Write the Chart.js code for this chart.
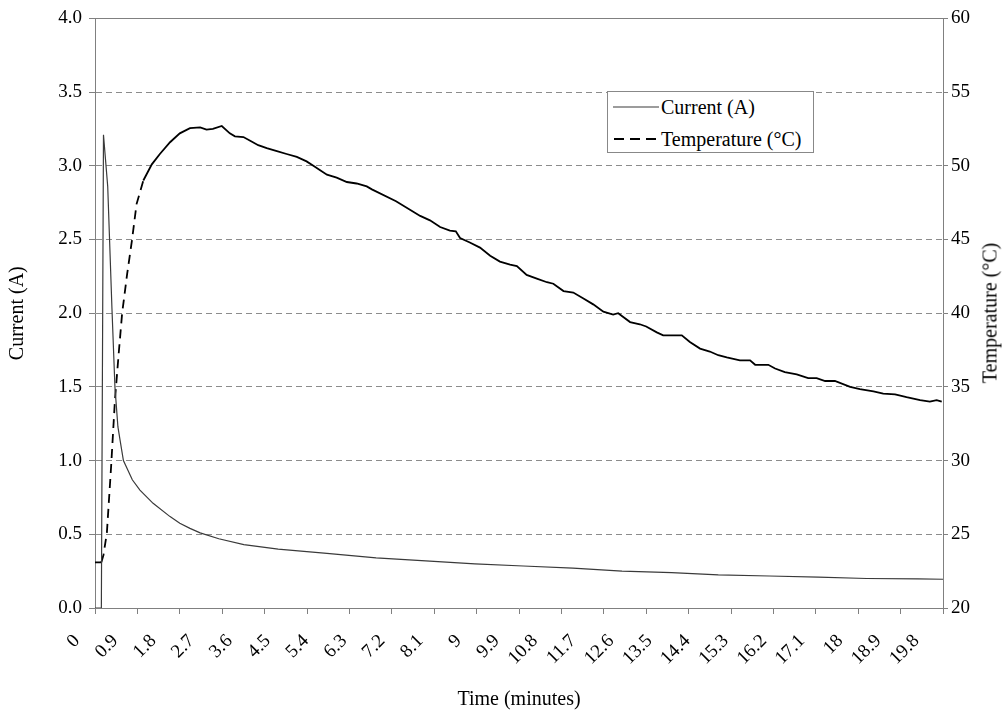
<!DOCTYPE html>
<html>
<head>
<meta charset="utf-8">
<title>Current and temperature over time</title>
<script src="https://cdn.jsdelivr.net/npm/chart.js@4"></script>
<style>
  body { margin: 0; background: #fff; }
  #wrap { position: relative; width: 1006px; height: 715px; font-family: 'Liberation Serif', 'Times New Roman', serif; }
  #legend { position: absolute; left: 607px; top: 91px; width: 205px; height: 60px; border: 1px solid #888; background: #fff; }
  #legend .row { position: absolute; left: 5px; height: 24px; display: flex; align-items: center; font-size: 20px; line-height: 24px; white-space: nowrap; }
  #legend svg { margin-right: 2px; }
  #rightTitle { position: absolute; left: 990px; top: 313px; transform: translate(-50%, -50%) rotate(-90deg); font-size: 20px; white-space: nowrap; }
</style>
</head>
<body>
<div id="wrap">
  <canvas id="chart"></canvas>
  <div id="legend"></div>
  <div id="rightTitle"></div>
</div>
<script>
// time (minutes) and current (A)
const currentTimes = [0, 0.15, 0.2, 0.3, 0.4, 0.47, 0.54, 0.59, 0.67, 0.88, 1.06, 1.37, 1.77, 2.0, 2.24, 2.48,
    2.92, 3.51, 4.32, 5.47, 6.63, 7.8, 8.96, 10.1, 11.27, 12.43, 13.6, 14.7, 15.9, 17.06, 18.2, 19.4, 20.0];
const currentValues = [0, 0, 3.21, 2.86, 2.03, 1.5, 1.23, 1.14, 1.0, 0.87, 0.80, 0.71, 0.62, 0.575, 0.54, 0.51,
    0.47, 0.43, 0.40, 0.37, 0.34, 0.32, 0.30, 0.285, 0.27, 0.25, 0.24, 0.225, 0.217, 0.21, 0.20, 0.197, 0.195];

// time (minutes) and temperature (°C)
const tempTimes = [0, 0.15, 0.2, 0.28, 0.38, 0.47, 0.56, 0.64, 0.76, 0.87, 0.98, 1.14, 1.34, 1.53, 1.77, 2.0,
    2.24, 2.48, 2.63, 2.78, 2.99, 3.18, 3.3, 3.5, 3.66, 3.85, 4.05, 4.29, 4.52, 4.76, 4.99, 5.15, 5.31, 5.47,
    5.7, 5.94, 6.17, 6.41, 6.53, 7.1, 7.67, 7.9, 8.14, 8.37, 8.51, 8.61, 8.84, 9.08, 9.32, 9.55, 9.79, 9.95,
    10.18, 10.42, 10.66, 10.81, 11.05, 11.28, 11.52, 11.75, 11.99, 12.22, 12.34, 12.62, 12.85, 13.0, 13.25,
    13.4, 13.84, 14.03, 14.27, 14.5, 14.7, 14.9, 15.21, 15.45, 15.57, 15.88, 16.04, 16.27, 16.55, 16.82,
    17.02, 17.22, 17.45, 17.81, 18.04, 18.36, 18.59, 18.87, 19.14, 19.46, 19.69, 19.85, 19.97];
const tempValues = [23.1, 23.1, 23.6, 25.1, 29.6, 34.1, 37.3, 40.0, 42.7, 44.9, 47.4, 49.0, 50.1, 50.8, 51.6, 52.2,
    52.55, 52.6, 52.45, 52.5, 52.7, 52.2, 52.0, 51.95, 51.7, 51.4, 51.2, 51.0, 50.8, 50.6, 50.3, 50.0, 49.7, 49.4,
    49.2, 48.9, 48.8, 48.6, 48.4, 47.6, 46.6, 46.3, 45.85, 45.6, 45.56, 45.1, 44.8, 44.45, 43.9, 43.5, 43.3, 43.2,
    42.6, 42.35, 42.1, 42.0, 41.5, 41.4, 41.0, 40.6, 40.1, 39.9, 40.0, 39.4, 39.25, 39.1, 38.7,
    38.5, 38.5, 38.05, 37.6, 37.4, 37.15, 37.0, 36.8, 36.8, 36.5, 36.5, 36.25, 36.0, 35.85, 35.6,
    35.6, 35.4, 35.4, 35.0, 34.85, 34.7, 34.55, 34.5, 34.3, 34.1, 34.0, 34.1, 34.0];

const timeLabels = ['0', '0.9', '1.8', '2.7', '3.6', '4.5', '5.4', '6.3', '7.2', '8.1', '9', '9.9', '10.8',
    '11.7', '12.6', '13.5', '14.4', '15.3', '16.2', '17.1', '18', '18.9', '19.8'];

const seriesNames = ['Current (A)', 'Temperature (°C)'];
const axisTitles = ['Time (minutes)', 'Current (A)', 'Temperature (°C)'];

const axisGray = '#808080';
const gridGray = '#8c8c8c';

Chart.defaults.font.family = "'Liberation Serif', 'Times New Roman', serif";
Chart.defaults.color = '#000';

const toPoints = (xs, ys) => xs.map((x, i) => ({ x: x, y: ys[i] }));

// the steep part of the temperature rise shows its dashes, the rest looks solid
const steepDash = ctx => {
    const dx = Math.abs(ctx.p1.x - ctx.p0.x);
    const dy = Math.abs(ctx.p1.y - ctx.p0.y);
    return dy > 3 * dx ? [9, 6] : undefined;
};

const chart = new Chart(document.getElementById('chart'), {
    type: 'line',
    data: {
        datasets: [{
            label: seriesNames[0],
            data: toPoints(currentTimes, currentValues),
            borderColor: '#3a3a3a',
            borderWidth: 1.2,
            pointRadius: 0,
            tension: 0,
            xAxisID: 'x',
            yAxisID: 'y'
        }, {
            label: seriesNames[1],
            data: toPoints(tempTimes, tempValues),
            borderColor: '#000',
            borderWidth: 1.8,
            pointRadius: 0,
            tension: 0,
            xAxisID: 'x',
            yAxisID: 'y1',
            segment: { borderDash: steepDash }
        }]
    },
    options: {
        responsive: true,
        maintainAspectRatio: false,
        animation: false,
        layout: { padding: { top: 18, left: 0, right: 0, bottom: 0 } },
        plugins: {
            legend: { display: false },
            tooltip: { enabled: false }
        },
        scales: {
            x: {
                type: 'linear',
                position: 'bottom',
                weight: 0,
                min: 0,
                max: 20,
                ticks: { display: false, stepSize: 1, autoSkip: false },
                grid: { drawOnChartArea: false, tickLength: 6, tickColor: axisGray },
                border: { color: axisGray },
                afterFit: s => { s.height = 6; }
            },
            xt: {
                type: 'linear',
                position: 'bottom',
                weight: 1,
                min: 0,
                max: 20,
                afterBuildTicks: s => { s.ticks = timeLabels.map(t => ({ value: parseFloat(t) })); },
                ticks: {
                    autoSkip: false,
                    minRotation: 45,
                    maxRotation: 45,
                    labelOffset: -18,
                    padding: 8,
                    font: { size: 19 },
                    callback: (v, i) => timeLabels[i]
                },
                grid: { display: false },
                border: { display: false },
                title: { display: true, text: axisTitles[0], font: { size: 20 }, padding: { top: 0, bottom: 3 } },
                afterFit: s => { s.height = 101; }
            },
            y: {
                position: 'left',
                min: 0,
                max: 4,
                ticks: { stepSize: 0.5, padding: 7, font: { size: 19 }, callback: v => v.toFixed(1) },
                grid: {
                    color: c => (c.tick && c.tick.value > 0 && c.tick.value < 4) ? gridGray : 'transparent',
                    tickColor: axisGray,
                    tickLength: 6
                },
                border: { color: axisGray, dash: [6, 4] },
                title: { display: true, text: axisTitles[1], font: { size: 20 }, padding: { top: 6, bottom: 4 } },
                afterFit: s => { s.width = 95; }
            },
            y1: {
                position: 'right',
                min: 20,
                max: 60,
                ticks: { stepSize: 5, padding: 3, font: { size: 19 } },
                grid: {
                    color: c => (c.tick && c.tick.value === 60) ? axisGray : 'transparent',
                    tickColor: axisGray,
                    tickLength: 5
                },
                border: { color: axisGray },
                afterFit: s => { s.width = 63; }
            }
        }
    }
});

// legend box inside the plot
const legend = document.getElementById('legend');
const samples = [
    '<svg width="46" height="10"><line x1="0" y1="5" x2="46" y2="5" stroke="#3a3a3a" stroke-width="1.2"/></svg>',
    '<svg width="46" height="10"><line x1="1" y1="5" x2="44" y2="5" stroke="#000" stroke-width="2" stroke-dasharray="10 6"/></svg>'
];
seriesNames.forEach((name, i) => {
    const row = document.createElement('div');
    row.className = 'row';
    row.style.top = (i === 0 ? 3 : 35) + 'px';
    row.innerHTML = samples[i] + '<span>' + name + '</span>';
    legend.appendChild(row);
});

document.getElementById('rightTitle').textContent = axisTitles[2];
</script>
</body>
</html>
